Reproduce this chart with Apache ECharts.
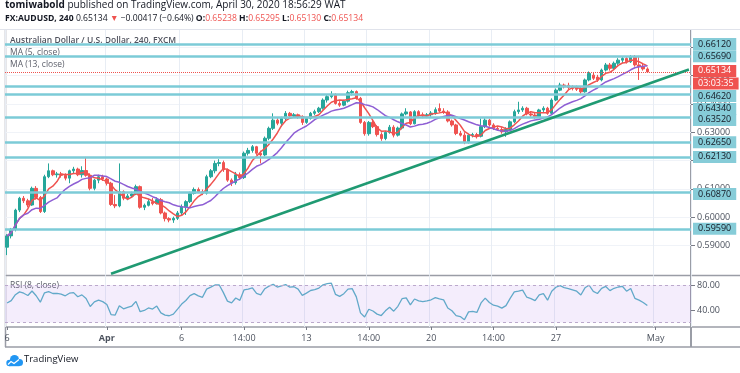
<!DOCTYPE html>
<html><head><meta charset="utf-8">
<script src="https://cdn.jsdelivr.net/npm/echarts@6/dist/echarts.min.js"></script>
<style>html,body{margin:0;padding:0;background:#fff}#c{width:740px;height:373px}</style>
</head><body><div id="c"></div>
<script>
// ---- data (4h AUDUSD candles, Mar 26 – Apr 30 2020) ----
const opens = [0.5894,0.5934,0.5957,0.6025,0.6067,0.6058,0.6043,0.6102,0.6070,0.6020,
0.6143,0.6164,0.6150,0.6153,0.6148,0.6138,0.6164,0.6170,0.6150,0.6165,
0.6148,0.6102,0.6131,0.6143,0.6135,0.6120,0.6045,0.6040,0.6090,0.6067,
0.6075,0.6082,0.6108,0.6035,0.6042,0.6055,0.6048,0.6062,0.6015,0.5995,
0.5990,0.5996,0.6015,0.6037,0.6055,0.6084,0.6098,0.6090,0.6085,0.6143,
0.6164,0.6190,0.6193,0.6168,0.6131,0.6122,0.6150,0.6140,0.6226,0.6236,
0.6249,0.6226,0.6220,0.6279,0.6314,0.6343,0.6332,0.6349,0.6367,0.6358,
0.6362,0.6355,0.6335,0.6349,0.6367,0.6373,0.6385,0.6414,0.6426,0.6432,
0.6402,0.6396,0.6410,0.6440,0.6444,0.6420,0.6335,0.6295,0.6335,0.6320,
0.6292,0.6278,0.6300,0.6318,0.6290,0.6315,0.6365,0.6372,0.6330,0.6373,
0.6362,0.6358,0.6362,0.6368,0.6384,0.6375,0.6372,0.6340,0.6326,0.6296,
0.6290,0.6265,0.6290,0.6292,0.6286,0.6320,0.6343,0.6326,0.6314,0.6310,
0.6302,0.6310,0.6337,0.6373,0.6379,0.6385,0.6365,0.6361,0.6355,0.6379,
0.6385,0.6367,0.6414,0.6449,0.6467,0.6466,0.6458,0.6460,0.6455,0.6443,
0.6485,0.6502,0.6495,0.6485,0.6520,0.6538,0.6526,0.6544,0.6555,0.6561,
0.6549,0.6567,0.6538,0.6532,0.65238];
const highs = [0.5940,0.5962,0.6030,0.6072,0.6075,0.6065,0.6108,0.6110,0.6075,0.6150,
0.6190,0.6168,0.6160,0.6160,0.6155,0.6168,0.6178,0.6175,0.6180,0.6213,
0.6155,0.6135,0.6150,0.6150,0.6140,0.6125,0.6078,0.6190,0.6095,0.6082,
0.6090,0.6115,0.6112,0.6048,0.6065,0.6068,0.6070,0.6068,0.6020,0.6000,
0.6002,0.6022,0.6045,0.6060,0.6090,0.6105,0.6105,0.6098,0.6150,0.6170,
0.6200,0.6205,0.6200,0.6172,0.6137,0.6160,0.6158,0.6232,0.6245,0.6255,
0.6252,0.6235,0.6285,0.6320,0.6367,0.6350,0.6355,0.6375,0.6372,0.6368,
0.6366,0.6360,0.6355,0.6372,0.6380,0.6390,0.6420,0.6432,0.6445,0.6438,
0.6410,0.6415,0.6447,0.6450,0.6448,0.6425,0.6340,0.6340,0.6345,0.6325,
0.6300,0.6305,0.6326,0.6325,0.6320,0.6370,0.6385,0.6375,0.6378,0.6378,
0.6370,0.6368,0.6375,0.6388,0.6402,0.6385,0.6378,0.6345,0.6330,0.6305,
0.6300,0.6295,0.6298,0.6298,0.6349,0.6350,0.6348,0.6332,0.6322,0.6318,
0.6318,0.6342,0.6380,0.6408,0.6392,0.6390,0.6375,0.6368,0.6383,0.6392,
0.6390,0.6420,0.6455,0.6475,0.6472,0.6475,0.6466,0.6465,0.6460,0.6490,
0.6515,0.6510,0.6503,0.6525,0.6545,0.6545,0.6550,0.6562,0.6568,0.6566,
0.6573,0.6573,0.6570,0.6545,0.65295];
const lows = [0.5866,0.5925,0.5950,0.6018,0.6050,0.6035,0.6040,0.6062,0.6015,0.6015,
0.6138,0.6145,0.6140,0.6140,0.6130,0.6120,0.6155,0.6145,0.6140,0.6143,
0.6095,0.6095,0.6120,0.6128,0.6112,0.6040,0.6032,0.6035,0.6060,0.6060,
0.6068,0.6078,0.6030,0.6025,0.6038,0.6042,0.6045,0.6010,0.5985,0.5982,
0.5980,0.5990,0.6005,0.6008,0.6050,0.6080,0.6085,0.6078,0.6080,0.6138,
0.6155,0.6180,0.6160,0.6125,0.6110,0.6115,0.6132,0.6135,0.6218,0.6228,
0.6220,0.6190,0.6215,0.6272,0.6308,0.6325,0.6320,0.6343,0.6352,0.6352,
0.6348,0.6326,0.6330,0.6345,0.6360,0.6368,0.6380,0.6405,0.6420,0.6398,
0.6390,0.6392,0.6405,0.6430,0.6415,0.6330,0.6288,0.6288,0.6315,0.6285,
0.6270,0.6272,0.6295,0.6282,0.6285,0.6310,0.6360,0.6325,0.6328,0.6355,
0.6350,0.6350,0.6355,0.6362,0.6370,0.6365,0.6335,0.6320,0.6290,0.6285,
0.6258,0.6260,0.6282,0.6278,0.6282,0.6315,0.6320,0.6308,0.6305,0.6295,
0.6284,0.6305,0.6332,0.6365,0.6372,0.6360,0.6355,0.6348,0.6350,0.6372,
0.6362,0.6362,0.6410,0.6445,0.6455,0.6452,0.6448,0.6446,0.6436,0.6440,
0.6480,0.6485,0.6478,0.6480,0.6515,0.6518,0.6522,0.6538,0.6545,0.6543,
0.6545,0.6532,0.6485,0.6518,0.65130];
const closes = [0.5934,0.5957,0.6025,0.6067,0.6058,0.6043,0.6102,0.6070,0.6020,0.6143,
0.6164,0.6150,0.6153,0.6148,0.6138,0.6164,0.6170,0.6150,0.6165,0.6148,
0.6102,0.6131,0.6143,0.6135,0.6120,0.6045,0.6040,0.6090,0.6067,0.6075,
0.6082,0.6108,0.6035,0.6042,0.6055,0.6048,0.6062,0.6015,0.5995,0.5990,
0.5996,0.6015,0.6037,0.6055,0.6084,0.6098,0.6090,0.6085,0.6143,0.6164,
0.6190,0.6193,0.6168,0.6131,0.6122,0.6150,0.6140,0.6226,0.6236,0.6249,
0.6226,0.6220,0.6279,0.6314,0.6343,0.6332,0.6349,0.6367,0.6358,0.6362,
0.6355,0.6335,0.6349,0.6367,0.6373,0.6385,0.6414,0.6426,0.6432,0.6402,
0.6396,0.6410,0.6440,0.6444,0.6420,0.6335,0.6295,0.6335,0.6320,0.6292,
0.6278,0.6300,0.6318,0.6290,0.6315,0.6365,0.6372,0.6330,0.6373,0.6362,
0.6358,0.6362,0.6368,0.6380,0.6375,0.6372,0.6340,0.6326,0.6296,0.6290,
0.6265,0.6290,0.6292,0.6286,0.6320,0.6343,0.6326,0.6314,0.6310,0.6302,
0.6310,0.6337,0.6373,0.6379,0.6385,0.6365,0.6361,0.6355,0.6379,0.6385,
0.6367,0.6414,0.6449,0.6467,0.6461,0.6458,0.6455,0.6452,0.6443,0.6485,
0.6508,0.6491,0.6485,0.6520,0.6538,0.6526,0.6544,0.6555,0.6561,0.6549,
0.6567,0.6538,0.6532,0.6524,0.65134];
const slotCount = 165;                 // bar slots incl. empty space on the right
const timeLabels = {0:'6', 24:'Apr', 42:'6', 57:'14:00', 72:'13', 87:'14:00', 102:'20', 117:'14:00', 132:'27', 156:'May'};
const priceTicks = [0.59, 0.60, 0.61, 0.62, 0.63, 0.64, 0.65, 0.66];
const rsiTicks = [40, 80];
const levels = [0.6612, 0.6569, 0.6462, 0.6434, 0.6352, 0.6265, 0.6213, 0.6087, 0.5959];
const trendStart = [25, 0.5800];
const trendEnd = [164, 0.6522];
const lastPrice = 0.65134;
const countdown = '03:03:35';
const rsiSeedGainLoss = [0.0020, 0.0019];   // warm-up state giving the ~51 RSI seen at the left edge

// ---- derived ----
const categories = Array.from({length: slotCount}, (_, i) => String(i));
const candles = opens.map((o, i) => [o, closes[i], lows[i], highs[i]]);
function sma(arr, n) {
  return arr.map((_, i) => { const s = Math.max(0, i - n + 1); let t = 0; for (let k = s; k <= i; k++) t += arr[k]; return +(t / (i - s + 1)).toFixed(5); });
}
function rsi(cl, n, seed) {
  let ag = seed[0], al = seed[1];
  const out = [+(100 - 100 / (1 + ag / al)).toFixed(2)];
  for (let i = 1; i < cl.length; i++) {
    const d = cl[i] - cl[i - 1], g = Math.max(d, 0), l = Math.max(-d, 0);
    ag = (ag * (n - 1) + g) / n; al = (al * (n - 1) + l) / n;
    out.push(al === 0 ? 100 : +(100 - 100 / (1 + ag / al)).toFixed(2));
  }
  return out;
}
const ma5 = sma(closes, 5), ma13 = sma(closes, 13), rsi8 = rsi(closes, 8, rsiSeedGainLoss);

// ---- style ----
const FONT = 'Open Sans';
const H2 = 8.6;
const levelColor = '#7ccbd7', levelBox = '#86ccd8';
const levelShift = [0, 0, 9.5, 14.5, 2.3, 0, 0, 1.4, 0];
const isLabel = (i) => timeLabels[i] !== undefined;
const boxLabel = (txt, bg, fg, dy) => ({show: true, position: 'end', distance: 2, formatter: txt, offset: [0, dy],
  backgroundColor: bg, color: fg, fontSize: 9, fontFamily: FONT, padding: [2, 5, 1, 5]});

const chart = echarts.init(document.getElementById('c'));
const option = {
  animation: false,
  textStyle: {fontFamily: FONT},
  grid: [
    {left: 5, top: 30, width: 686, height: 245.5},
    {left: 5, top: 275.5, width: 686, height: 51.5}
  ],
  xAxis: [
    {type: 'category', gridIndex: 0, data: categories, boundaryGap: true,
     axisLine: {show: false}, axisTick: {show: false}, axisLabel: {show: false},
     splitLine: {show: true, interval: (i) => isLabel(i), lineStyle: {color: '#e8edf4', width: 1}}},
    {type: 'category', gridIndex: 1, data: categories, boundaryGap: true,
     axisLine: {show: false},
     axisTick: {show: true, alignWithLabel: true, interval: (i) => isLabel(i), length: 3, lineStyle: {color: '#787b86'}},
     axisLabel: {show: true, interval: (i) => isLabel(i), margin: 7, fontSize: 9, color: '#4c525e', fontFamily: FONT,
       formatter: (v) => timeLabels[+v] === 'Apr' ? '{b|Apr}' : timeLabels[+v],
       rich: {b: {fontWeight: 'bold', fontSize: 9, color: '#4c525e', fontFamily: FONT}}},
     splitLine: {show: true, interval: (i) => isLabel(i), lineStyle: {color: '#e8edf4', width: 1}}}
  ],
  yAxis: [
    {type: 'value', gridIndex: 0, position: 'right', min: 0.579399, max: 0.666148, splitNumber: 9,
     axisLine: {show: false},
     axisTick: {show: true, length: 4, customValues: priceTicks, lineStyle: {color: '#787b86'}},
     axisLabel: {customValues: priceTicks, formatter: (v) => v.toFixed(5), fontSize: 9, color: '#4c525e', margin: 6, fontFamily: FONT},
     splitLine: {show: true, lineStyle: {color: '#f0f3f8'}}},
    {type: 'value', gridIndex: 1, position: 'right', min: 12.8, max: 95.2,
     axisLine: {show: false},
     axisTick: {show: true, length: 4, customValues: rsiTicks, lineStyle: {color: '#787b86'}},
     axisLabel: {customValues: rsiTicks, formatter: (v) => v.toFixed(2), fontSize: 9, color: '#4c525e', margin: 6, fontFamily: FONT},
     splitLine: {show: false}}
  ],
  series: [
    {type: 'candlestick', xAxisIndex: 0, yAxisIndex: 0, data: candles, barWidth: 3,
     itemStyle: {color: '#26a69a', color0: '#ef5350', borderColor: '#26a69a', borderColor0: '#ef5350', borderWidth: 1},
     markLine: {symbol: ['none', 'none'], silent: true, animation: false, precision: 5,
       data: [
         ...levels.map((v, k) => ({yAxis: v, lineStyle: {color: levelColor, width: 2.5, type: 'solid'},
             label: boxLabel(v.toFixed(5), levelBox, '#131722', levelShift[k])})),
         {yAxis: lastPrice, lineStyle: {color: '#ef5350', width: 1, type: 'dotted'},
             label: boxLabel(lastPrice.toFixed(5), '#ef5350', '#ffffff', -1)},
         {yAxis: lastPrice - 0.00001, lineStyle: {color: 'rgba(255,255,255,0)', width: 0.1},
             label: boxLabel(countdown, '#ef5350', '#ffffff', 11.5)},
         [{coord: trendStart, lineStyle: {color: '#1f9a72', width: 2.5, type: 'solid'}, label: {show: false}},
          {coord: trendEnd}]
       ]}},
    {type: 'line', name: 'MA5', xAxisIndex: 0, yAxisIndex: 0, data: ma5, showSymbol: false, silent: true,
     lineStyle: {color: '#ef5350', width: 1.5}},
    {type: 'line', name: 'MA13', xAxisIndex: 0, yAxisIndex: 0, data: ma13, showSymbol: false, silent: true,
     lineStyle: {color: '#8e5fd4', width: 1.5}},
    {type: 'line', name: 'RSI', xAxisIndex: 1, yAxisIndex: 1, data: rsi8, showSymbol: false, silent: true,
     lineStyle: {color: '#62a9c9', width: 1.3},
     markArea: {silent: true, itemStyle: {color: 'rgba(156,90,230,0.11)'}, data: [[{yAxis: 20}, {yAxis: 80}]]},
     markLine: {symbol: ['none', 'none'], silent: true, label: {show: false}, precision: 2,
       lineStyle: {color: '#bba9cc', type: [3, 3], width: 1}, data: [{yAxis: 20}, {yAxis: 80}]}}
  ],
  graphic: [
    {type: 'text', left: 5, top: 0.5, style: {
      text: '{b|tomiwabold}{n| published on TradingView.com, April 30, 2020 18:56:29 WAT}',
      font: '10px "Open Sans"', fill: '#131722',
      rich: {b: {fontWeight: 'bold', fontSize: 10, fontFamily: FONT, fill: '#131722'},
             n: {fontSize: 10, fontFamily: FONT, fill: '#131722'}}}},
    {type: 'text', left: 5, top: 14, style: {
      text: '{b|FX:AUDUSD, 240}{n| 0.65134 }{r|▼}{n| −0.00417 (−0.64%) }{b|O:}{r|0.65238}{n| }{b|H:}{r|0.65295}{n| }{b|L:}{r|0.65130}{n| }{b|C:}{r|0.65134}',
      font: H2 + 'px "Open Sans"', fill: '#131722',
      rich: {b: {fontWeight: 'bold', fontSize: H2, fontFamily: FONT, fill: '#131722'},
             n: {fontSize: H2, fontFamily: FONT, fill: '#131722'},
             r: {fontSize: H2, fontFamily: FONT, fill: '#ef5350'}}}},
    {type: 'line', shape: {x1: 0, y1: 29.5, x2: 740, y2: 29.5}, style: {stroke: '#e0e3eb', lineWidth: 1}},
    {type: 'text', left: 10, top: 36, style: {text: 'Australian Dollar / U.S. Dollar, 240, FXCM', fontSize: 8.5, fontWeight: 600, fontFamily: FONT, fill: '#50535e'}},
    {type: 'text', left: 10, top: 48.5, style: {text: 'MA (5, close)', fontSize: 8.5, fontFamily: FONT, fill: '#5d606b'}},
    {type: 'text', left: 10, top: 60, style: {text: 'MA (13, close)', fontSize: 8.5, fontFamily: FONT, fill: '#5d606b'}},
    {type: 'text', left: 10, top: 281, style: {text: 'RSI (8, close)', fontSize: 8.5, fontFamily: FONT, fill: '#5d606b'}},
    {type: 'line', shape: {x1: 5.5, y1: 30, x2: 5.5, y2: 347}, style: {stroke: '#9a9da6', lineWidth: 1.5}},
    {type: 'line', shape: {x1: 691, y1: 30, x2: 691, y2: 347}, style: {stroke: '#9a9da6', lineWidth: 2}},
    {type: 'line', shape: {x1: 5, y1: 275.5, x2: 740, y2: 275.5}, style: {stroke: '#9a9da6', lineWidth: 1.5}},
    {type: 'line', shape: {x1: 5, y1: 327, x2: 740, y2: 327}, style: {stroke: '#9a9da6', lineWidth: 1.5}},
    {type: 'line', shape: {x1: 5, y1: 347, x2: 740, y2: 347}, style: {stroke: '#9a9da6', lineWidth: 1.5}},
    {type: 'circle', shape: {cx: 9.5, cy: 363, r: 3.2}, style: {fill: '#2196f3'}},
    {type: 'circle', shape: {cx: 14.5, cy: 359.5, r: 4.5}, style: {fill: '#2196f3'}},
    {type: 'circle', shape: {cx: 19.5, cy: 362.5, r: 3.5}, style: {fill: '#2196f3'}},
    {type: 'rect', shape: {x: 9.5, y: 362, width: 10, height: 4.2}, style: {fill: '#2196f3'}},
    {type: 'polyline', shape: {points: [[8, 364.5], [11, 361.5], [14, 363.5], [19, 359.5]]}, style: {stroke: '#ffffff', lineWidth: 1.2, fill: null}},
    {type: 'text', left: 24, top: 354, style: {text: 'TradingView', fontSize: 9.5, fontWeight: 500, fontFamily: FONT, fill: '#131722'}}
  ]
};
chart.setOption(option);
</script></body></html>
